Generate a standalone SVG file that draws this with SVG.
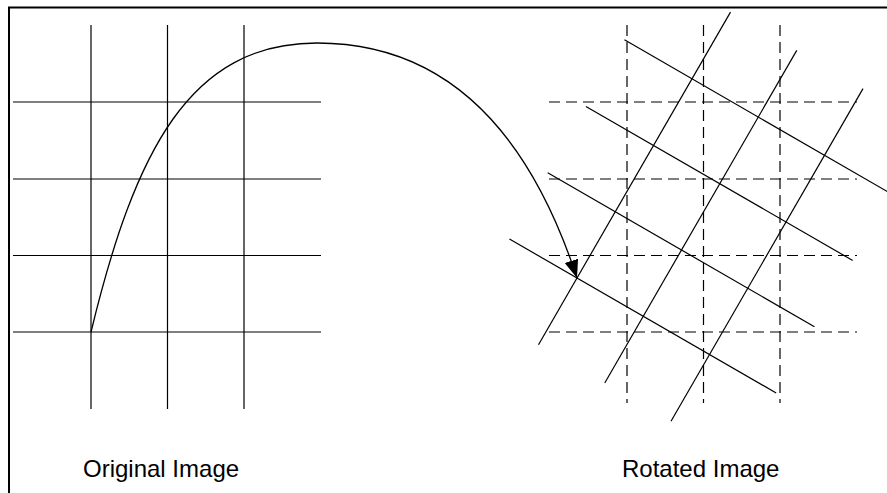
<svg xmlns="http://www.w3.org/2000/svg" xmlns:xlink="http://www.w3.org/1999/xlink" width="887" height="493" viewBox="0 0 887 493">
  <style>
    .dash line { stroke: #000; stroke-width: 1.2; stroke-dasharray: 11 6; fill: none; }
    .frame { fill: none; stroke: #000; stroke-width: 2; }
    .label { font-family: "Liberation Sans", Arial, sans-serif; font-size: 24px; fill: #000; }
    .conn { fill: none; stroke: #000; stroke-width: 1.3; }
  </style>
  <defs>
    <g id="gridLines" stroke="#000" stroke-width="1.2" fill="none">
      <line x1="91" y1="25" x2="91" y2="409"/>
      <line x1="167.5" y1="25" x2="167.5" y2="409"/>
      <line x1="244" y1="25" x2="244" y2="409"/>
      <line x1="13" y1="102" x2="321" y2="102"/>
      <line x1="13" y1="179" x2="321" y2="179"/>
      <line x1="13" y1="255.5" x2="321" y2="255.5"/>
      <line x1="13" y1="332" x2="321" y2="332"/>
    </g>
    <marker id="arrow" markerUnits="userSpaceOnUse" markerWidth="24" markerHeight="16" refX="18" refY="7" orient="auto" viewBox="0 0 24 16">
      <path d="M0,0 L18,7 L0,14 Z" fill="#000" stroke="none"/>
    </marker>
  </defs>

  <rect class="frame" x="9" y="7.5" width="900" height="500"/>

  <g id="original-grid">
    <use xlink:href="#gridLines" href="#gridLines"/>
  </g>

  <g id="reference-grid" class="dash">
    <line x1="627" y1="25" x2="627" y2="403"/>
    <line x1="703.5" y1="25" x2="703.5" y2="403"/>
    <line x1="780" y1="25" x2="780" y2="403"/>
    <line x1="549" y1="102" x2="857" y2="102"/>
    <line x1="549" y1="179" x2="857" y2="179"/>
    <line x1="549" y1="255.5" x2="857" y2="255.5"/>
    <line x1="549" y1="332" x2="857" y2="332"/>
  </g>

  <g id="rotated-grid">
    <use xlink:href="#gridLines" href="#gridLines" transform="translate(577,278) rotate(30) translate(-91,-332)"/>
  </g>

  <g id="connectors">
    <path class="conn" d="M91,332 C135,150 190,43 317,43 C460,43 535,150 577,278" marker-end="url(#arrow)"/>
  </g>

  <g id="labels">
    <text class="label" x="83" y="477">Original Image</text>
    <text class="label" x="622" y="477">Rotated Image</text>
  </g>
</svg>
